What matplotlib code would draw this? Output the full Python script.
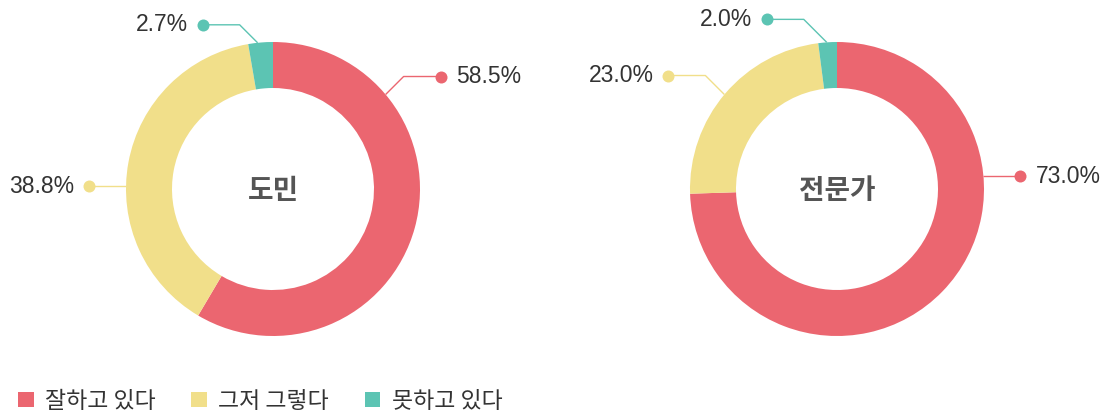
import math
import matplotlib.pyplot as plt
from matplotlib.patches import Patch

# ------------------------- data -------------------------
categories = ['잘하고 있다', '그저 그렇다', '못하고 있다']
colors = ['#EB6670', '#F1DF8A', '#5CC4B3']

groups = ['도민', '전문가']
values_citizen = [58.5, 38.8, 2.7]
values_expert = [73.0, 23.0, 2.0]

# label layout: angle of the leader start (deg, clockwise from top), rise of the 45deg segment (px)
leader_citizen = [(50, 18), (271, 0), (354, 18)]
leader_expert = [(85, 0), (310, 19), (356, 23)]

# ------------------------- layout -------------------------
W, H = 1113, 416
R_OUT, R_IN = 147, 101
centers = [(273, H - 189), (837, H - 189)]
HLEN = 37          # horizontal segment of the leader line
DOT = 6            # dot radius

plt.rcParams['font.family'] = ['Noto Sans CJK KR', 'DejaVu Sans']

fig = plt.figure(figsize=(W / 100, H / 100), dpi=100)
ax = fig.add_axes([0, 0, 1, 1])


def draw_donut(values, center, name, leaders):
    ax.pie(values, colors=colors, startangle=90, counterclock=False,
           radius=R_OUT, center=center,
           wedgeprops=dict(width=R_OUT - R_IN, linewidth=0))
    cx, cy = center
    ax.text(cx, cy - 2, name, ha='center', va='center', fontsize=20,
            fontweight='bold', color='#555555')

    for v, col, (ang, rise) in zip(values, colors, leaders):
        a = math.radians(ang)
        x0 = cx + R_OUT * math.sin(a)
        y0 = cy + R_OUT * math.cos(a)
        side = 1 if math.sin(a) >= 0 else -1
        x1 = x0 + side * rise
        y1 = y0 + rise
        x2 = x1 + side * HLEN
        ax.plot([x0, x1, x2], [y0, y1, y1], color=col, lw=1, solid_capstyle='butt')
        ax.scatter([x2], [y1], s=(DOT * 2 * 0.72) ** 2, color=col, zorder=5, linewidths=0)
        ax.text(x2 + side * 15, y1, f'{v:.1f}%', ha='left' if side > 0 else 'right',
                va='center', fontsize=16.5, color='#333333', family='Liberation Sans')


draw_donut(values_citizen, centers[0], groups[0], leader_citizen)
draw_donut(values_expert, centers[1], groups[1], leader_expert)

ax.set_xlim(0, W)
ax.set_ylim(0, H)
ax.set_aspect('equal')
ax.axis('off')

handles = [Patch(facecolor=c, edgecolor='none') for c in colors]
leg = ax.legend(handles, categories, loc='center left', bbox_to_anchor=(18 / W, 15 / H),
                ncol=3, frameon=False, fontsize=16.5, handlelength=0.68, handleheight=0.68,
                handletextpad=0.5, columnspacing=1.55, borderpad=0, borderaxespad=0)
for t in leg.get_texts():
    t.set_color('#333333')

fig.savefig('out.png', dpi=100)
